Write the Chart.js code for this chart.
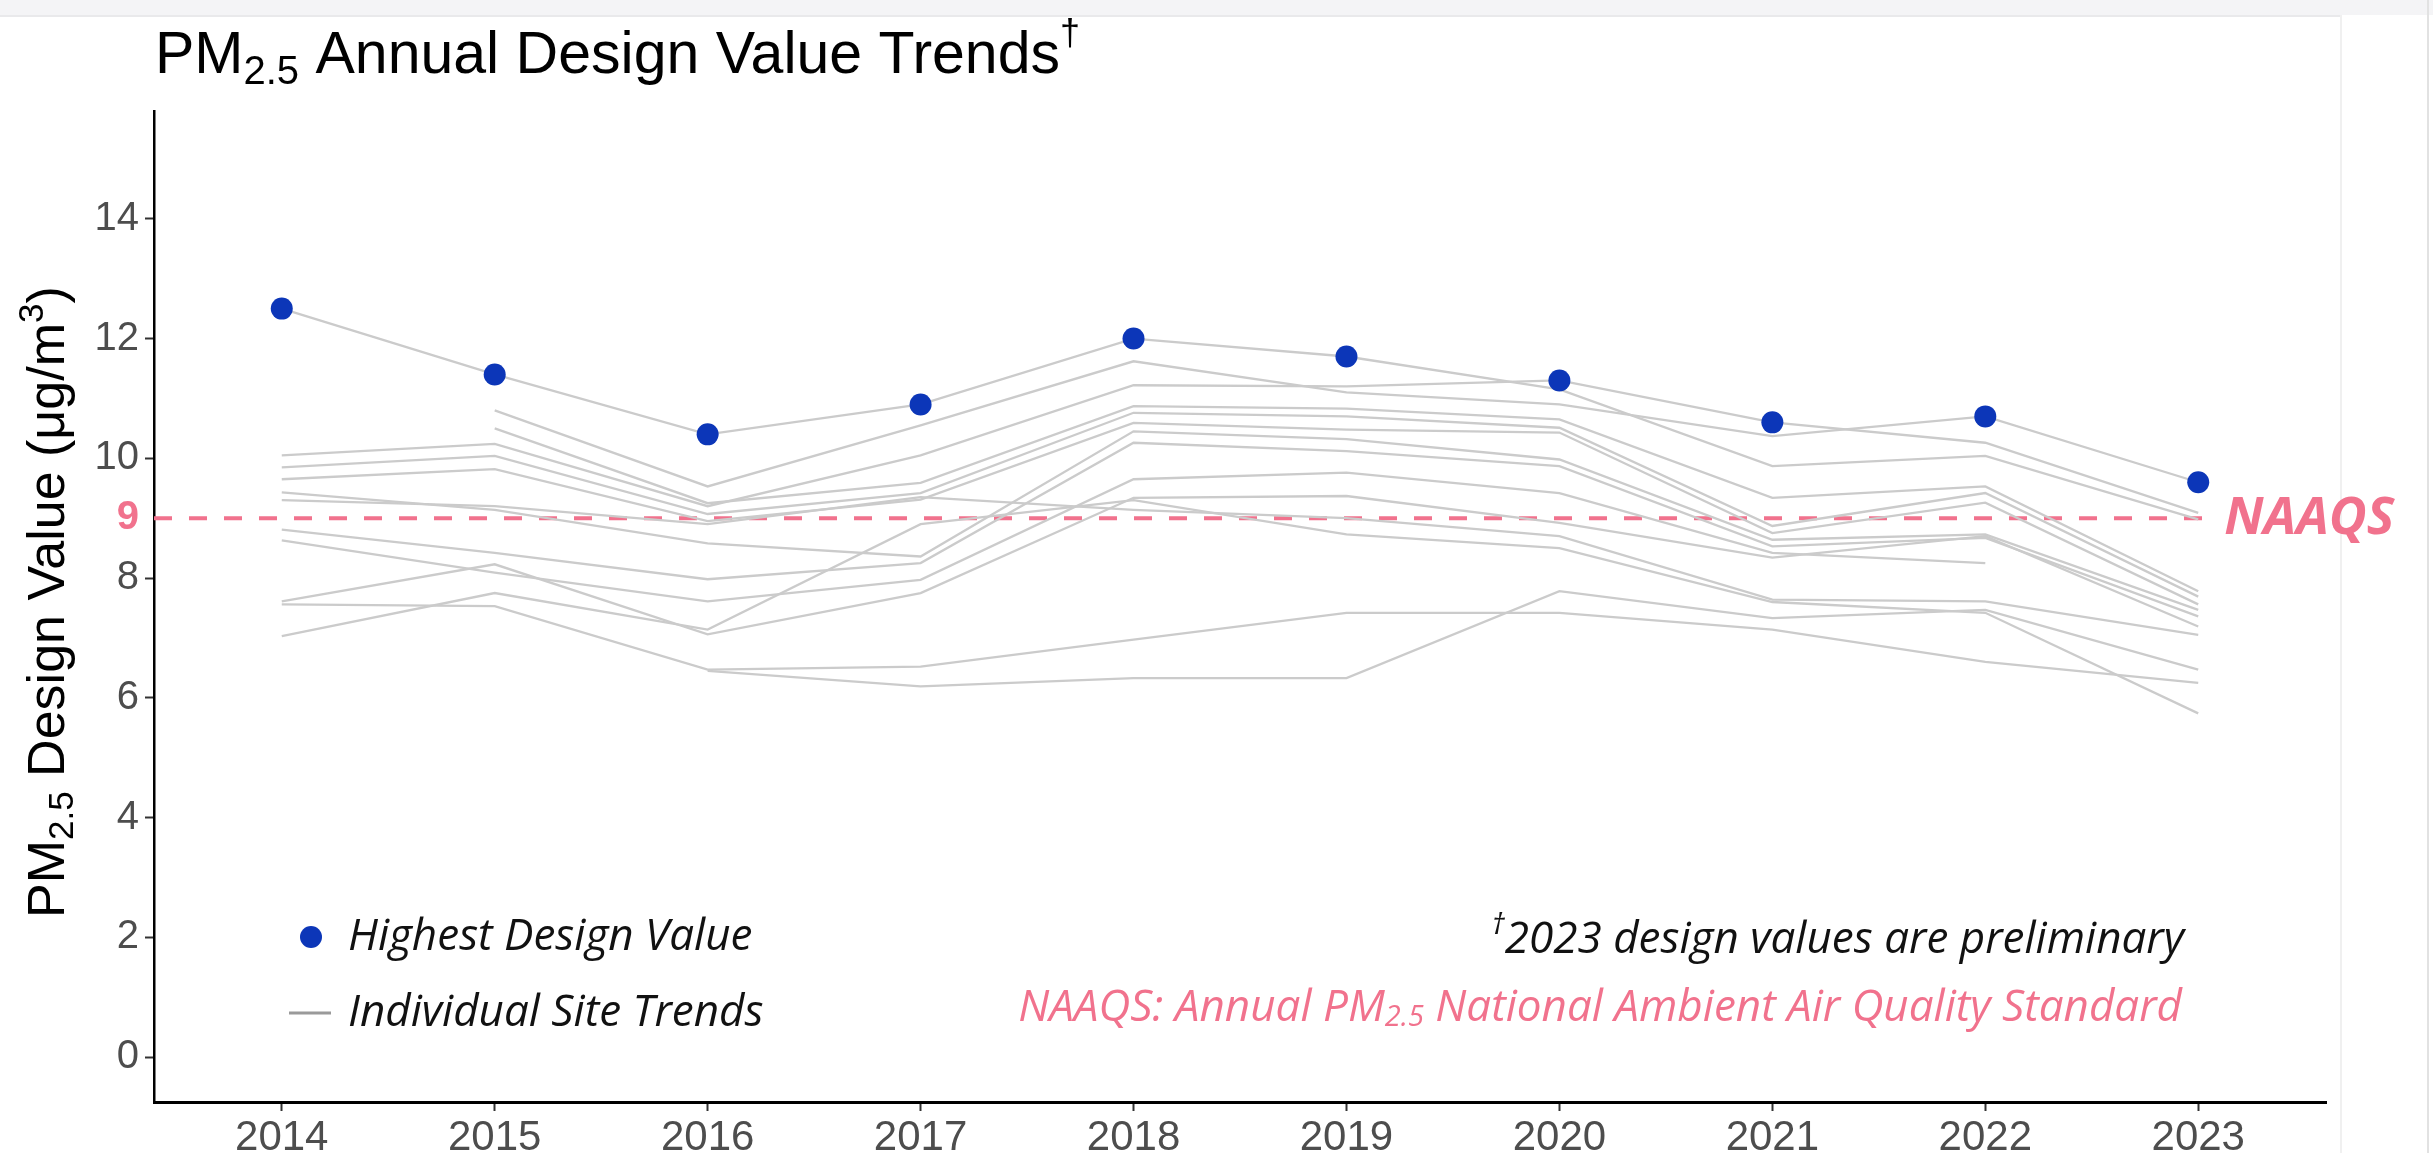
<!DOCTYPE html>
<html>
<head>
<meta charset="utf-8">
<script src="https://cdn.jsdelivr.net/npm/chart.js@4.4.1/dist/chart.umd.min.js"></script>
<style>
  html,body{margin:0;padding:0;background:#fff;overflow:hidden;}
  #wrap{position:relative;width:2433px;height:1153px;}
  .strip{position:absolute;left:0;top:0;width:2433px;height:15px;background:#f4f4f6;}
  .edgeTop{position:absolute;left:0;top:15px;width:2341px;height:2px;background:#e9e9eb;}
  .edgeRight{position:absolute;left:2340px;top:15px;width:2px;height:1138px;background:#f0f0f0;}
  .edgeFar{position:absolute;left:2427px;top:0;width:2px;height:1153px;background:#e2e2e2;}
  canvas{position:absolute;left:0;top:0;}
</style>
</head>
<body>
<div id="wrap">
  <div class="strip"></div><div class="edgeTop"></div><div class="edgeRight"></div><div class="edgeFar"></div>
  <canvas id="chart" width="2433" height="1153"></canvas>
</div>
<script>
// --- data ---
const years = [2014, 2015, 2016, 2017, 2018, 2019, 2020, 2021, 2022, 2023];
const highestDV = [12.5, 11.4, 10.4, 10.9, 12.0, 11.7, 11.3, 10.6, 10.7, 9.6];

// individual sites (null = no design value that year)
const site01 = [12.5, 11.4, 10.4, 10.9, 12.0, 11.7, 11.15, 9.87, 10.04, 8.98];
const site02 = [null, 10.8, 9.53, 10.55, 11.62, 11.1, 10.9, 10.37, 10.7, 9.6];
const site03 = [10.05, 10.24, 9.2, 10.05, 11.22, 11.2, 11.3, 10.6, 10.26, 9.09];
const site04 = [null, 10.5, 9.25, 9.59, 10.87, 10.83, 10.65, 9.34, 9.53, 7.78];
const site05 = [9.85, 10.04, 9.07, 9.42, 10.76, 10.7, 10.51, 8.87, 9.42, 7.69];
const site06 = [9.65, 9.82, 8.95, 9.31, 10.59, 10.48, 10.43, 8.75, 9.26, 7.56];
const site07 = [9.43, 9.14, 8.58, 8.36, 10.45, 10.32, 9.98, 8.64, 8.73, 7.47];
const site08 = [8.81, 8.42, 7.98, 8.25, 10.26, 10.12, 9.87, 8.53, 8.67, 7.36];
const site09 = [8.63, 8.09, 7.61, 7.97, 9.65, 9.76, 9.42, 8.42, 8.25, null];
const site10 = [7.61, 8.23, 7.06, 7.75, 9.34, 9.37, 8.92, 8.34, 8.7, 7.19];
const site11 = [7.56, 7.53, 6.47, 6.52, 6.97, 7.42, 7.42, 7.14, 6.6, 6.25];
const site12 = [7.03, 7.75, 7.14, 8.9, 9.3, 8.73, 8.5, 7.6, 7.42, 5.74];
const site13 = [null, null, 6.45, 6.19, 6.33, 6.33, 7.78, 7.33, 7.47, 6.47];
const site14 = [9.3, 9.2, 8.9, 9.35, 9.14, 9.0, 8.7, 7.64, 7.61, 7.05];
const siteTrends = [site01, site02, site03, site04, site05, site06, site07,
                    site08, site09, site10, site11, site12, site13, site14];

const yTicks = [0, 2, 4, 6, 8, 9, 10, 12, 14];
const naaqs = 9;

const PINK = '#f1728d', BLUE = '#0c36b8', SITE_GREY = '#cbcbcb';
const SANS = '"Liberation Sans", Arial, sans-serif';
const NOTE = '"Open Sans", Lato, sans-serif';

// draw a run of text pieces: [text, font, dy, color]
function textRuns(ctx, x, y, runs, color){
  let cx = x;
  runs.forEach(r=>{
    ctx.font = r[1]; ctx.fillStyle = r[3] || color;
    ctx.fillText(r[0], cx, y + (r[2]||0));
    cx += ctx.measureText(r[0]).width;
  });
  return cx - x;
}
function runsWidth(ctx, runs){
  let w = 0; runs.forEach(r=>{ ctx.font = r[1]; w += ctx.measureText(r[0]).width; }); return w;
}

const decor = {
  id:'decor',
  beforeDatasetsDraw(chart){
    const {ctx, chartArea, scales:{x,y}} = chart;
    const py = y.getPixelForValue(naaqs);
    ctx.save();
    ctx.strokeStyle = PINK; ctx.lineWidth = 4; ctx.setLineDash([18,17]);
    ctx.beginPath(); ctx.moveTo(chartArea.left, py);
    ctx.lineTo(x.getPixelForValue(years[years.length-1]) + 20, py); ctx.stroke();
    ctx.restore();
  },
  afterDraw(chart){
    const {ctx, scales:{x,y}} = chart;
    ctx.save();
    ctx.textBaseline = 'alphabetic'; ctx.textAlign = 'left';
    // title
    textRuns(ctx, 155, 73, [
      ['PM', '59px '+SANS], ['2.5', '40px '+SANS, 11], [' Annual Design Value Trends', '59px '+SANS],
      ['\u2020', '36px '+SANS, -28]
    ], '#000');
    // y axis title
    ctx.save();
    ctx.translate(64, 918); ctx.rotate(-Math.PI/2);
    textRuns(ctx, 0, 0, [
      ['PM', '52px '+SANS], ['2.5', '35px '+SANS, 9], [' Design Value (\u03bcg/m', '52px '+SANS],
      ['3', '35px '+SANS, -21], [')', '52px '+SANS]
    ], '#000');
    ctx.restore();
    // NAAQS label by the line
    ctx.textBaseline = 'middle';
    ctx.font = 'italic bold 52px '+NOTE; ctx.fillStyle = PINK;
    ctx.fillText('NAAQS', x.getPixelForValue(years[years.length-1]) + 26, y.getPixelForValue(naaqs)+1);
    // legend
    ctx.fillStyle = BLUE; ctx.beginPath(); ctx.arc(311, 937, 11, 0, Math.PI*2); ctx.fill();
    ctx.strokeStyle = '#9a9a9a'; ctx.lineWidth = 3; ctx.beginPath(); ctx.moveTo(289, 1013); ctx.lineTo(331, 1013); ctx.stroke();
    ctx.font = 'italic 44px '+NOTE; ctx.fillStyle = '#111';
    ctx.fillText('Highest Design Value', 348, 937);
    ctx.fillText('Individual Site Trends', 348, 1013);
    // notes, right aligned
    const n1 = [['\u2020', 'italic 29px '+NOTE, -14], ['2023 design values are preliminary', 'italic 44px '+NOTE]];
    textRuns(ctx, 2184 - runsWidth(ctx, n1), 940, n1, '#111');
    const n2 = [['NAAQS: Annual PM', 'italic 44px '+NOTE], ['2.5', 'italic 29px '+NOTE, 10],
                [' National Ambient Air Quality Standard', 'italic 44px '+NOTE]];
    textRuns(ctx, 2182 - runsWidth(ctx, n2), 1008, n2, PINK);
    ctx.restore();
  }
};

const datasets = [{
  type:'scatter', label:'Highest Design Value', order:0,
  data: years.map((yr,i)=>({x:yr, y:highestDV[i]})),
  pointRadius:11, pointBackgroundColor:BLUE, pointBorderWidth:0, showLine:false
}];
siteTrends.forEach((s,k)=>{
  datasets.push({
    type:'line', label:'site '+(k+1), order:1,
    data: years.map((yr,i)=>({x:yr, y:s[i]})).filter(p=>p.y!==null),
    borderColor:SITE_GREY, borderWidth:2.3, pointRadius:0, tension:0, fill:false
  });
});

new Chart(document.getElementById('chart'), {
  data:{ datasets },
  options:{
    responsive:false, animation:false,
    layout:{ padding:{ top:111, right:107, left:0, bottom:0 } },
    plugins:{ legend:{display:false}, tooltip:{enabled:false}, title:{display:false} },
    scales:{
      x:{
        type:'linear', min:2013.4, max:2023.6,
        afterBuildTicks: s=>{ s.ticks = years.map(v=>({value:v})); },
        afterFit: s=>{ s.height = 51; },
        ticks:{ autoSkip:false, maxRotation:0, padding:2, color:'#4d4d4d',
                font:{family:SANS, size:42}, callback:v=>String(v) },
        grid:{ drawOnChartArea:false, tickLength:9, tickColor:'#333', tickWidth:2 },
        border:{ color:'#000', width:3 }
      },
      y:{
        type:'linear', min:-0.75, max:15.8,
        afterBuildTicks: s=>{ s.ticks = yTicks.map(v=>({value:v})); },
        afterFit: s=>{ s.width = 154; },
        ticks:{ autoSkip:false, padding:6,
                color: c=> c.tick && c.tick.value===naaqs ? PINK : '#4d4d4d',
                font: c=> ({family:SANS, size:40, weight: c.tick && c.tick.value===naaqs ? 'bold' : 'normal'}),
                callback:v=>String(v) },
        grid:{ drawOnChartArea:false, tickLength:9, tickWidth:2,
               tickColor: c=> c.tick && c.tick.value===naaqs ? 'rgba(0,0,0,0)' : '#333' },
        border:{ color:'#000', width:2.5 }
      }
    }
  },
  plugins:[decor]
});
</script>
</body>
</html>
